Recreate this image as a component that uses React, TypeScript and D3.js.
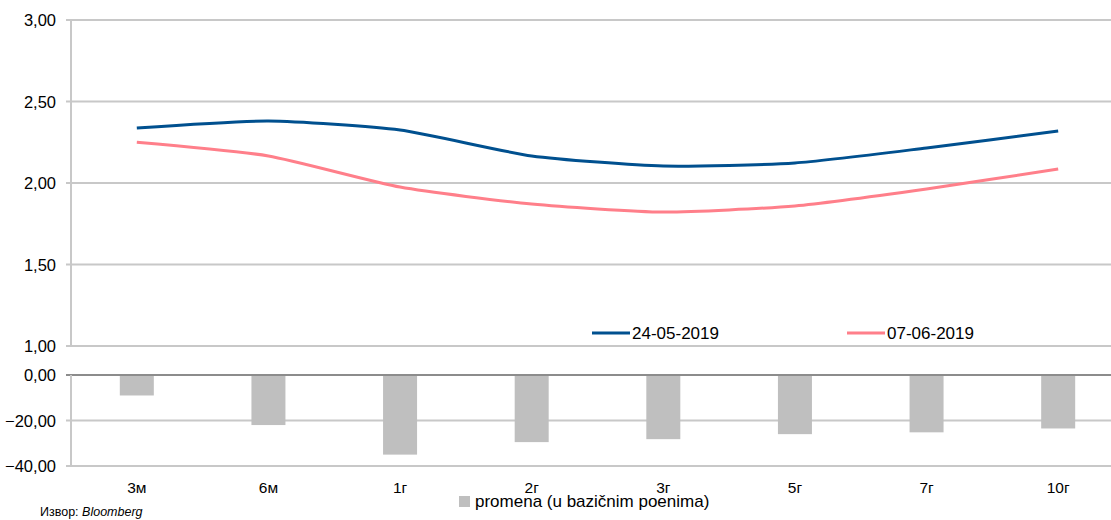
import React from "react";
import * as d3 from "d3";

const categories = ["3м", "6м", "1г", "2г", "3г", "5г", "7г", "10г"];
const series1Name = "24-05-2019";
const series1 = [2.337, 2.38, 2.325, 2.166, 2.104, 2.123, 2.215, 2.319];
const series2Name = "07-06-2019";
const series2 = [2.25, 2.166, 1.975, 1.871, 1.822, 1.859, 1.963, 2.086];
const changeName = "promena (u bazičnim poenima)";
const changes = [-9, -22, -35, -29.5, -28.2, -26, -25.2, -23.5];
const topTicks = [1, 1.5, 2, 2.5, 3];
const bottomTicks = [-40, -20, 0];
const sourceLabel = "Извор: ";
const sourceName = "Bloomberg";

const W = 1111;
const H = 520;
const fmt = (v: number) => d3.format(".2f")(v).replace(".", ",");

export default function App() {
  const x = d3.scaleBand<string>().domain(categories).range([71, 1124]).padding(0);
  const cx = (c: string) => (x(c) as number) + x.bandwidth() / 2;
  const yTop = d3.scaleLinear().domain([1, 3]).range([346, 20]);
  const yBot = d3.scaleLinear().domain([-40, 0]).range([466, 375]);
  const barW = 34;

  const line = d3
    .line<number>()
    .x((_, i) => cx(categories[i]))
    .y((d) => yTop(d))
    .curve(d3.curveCardinal.tension(0.4));

  const font = "'Liberation Sans', Arial, sans-serif";
  const grid = "#c8c8c8";

  return (
    <svg
      width={W}
      height={H}
      style={{ position: "absolute", left: 0, top: 0, background: "#fff" }}
      fontFamily={font}
    >
      {/* top gridlines */}
      {topTicks.map((t) => (
        <g key={"tt" + t}>
          <line x1={66} x2={W} y1={yTop(t)} y2={yTop(t)} stroke={grid} strokeWidth={2} />
          <text x={56} y={yTop(t) + 6} textAnchor="end" fontSize={16.5} fill="#000">
            {fmt(t)}
          </text>
        </g>
      ))}
      <line x1={71} x2={71} y1={yTop(3)} y2={yTop(1)} stroke={grid} strokeWidth={2} />

      {/* bottom gridlines */}
      {bottomTicks.map((t) => (
        <g key={"bt" + t}>
          <line
            x1={66}
            x2={W}
            y1={yBot(t)}
            y2={yBot(t)}
            stroke={t === 0 ? "#8c8c8c" : grid}
            strokeWidth={2}
          />
          <text x={56} y={yBot(t) + 6} textAnchor="end" fontSize={16.5} fill="#000">
            {fmt(t)}
          </text>
        </g>
      ))}
      <line x1={71} x2={71} y1={yBot(0)} y2={yBot(-40)} stroke={grid} strokeWidth={2} />

      {/* bars */}
      {changes.map((v, i) => (
        <rect
          key={"b" + i}
          x={cx(categories[i]) - barW / 2}
          y={yBot(0) + 1}
          width={barW}
          height={yBot(v) - yBot(0) - 1}
          fill="#bfbfbf"
        />
      ))}

      {/* lines */}
      <path d={line(series2) || ""} fill="none" stroke="#ff7f8a" strokeWidth={3} />
      <path d={line(series1) || ""} fill="none" stroke="#00508f" strokeWidth={3} />

      {/* category labels */}
      {categories.map((c) => (
        <text key={"c" + c} x={cx(c)} y={493} textAnchor="middle" fontSize={15.5} fill="#000">
          {c}
        </text>
      ))}

      {/* legend top */}
      <line x1={592} x2={630} y1={333} y2={333} stroke="#00508f" strokeWidth={3} />
      <text x={632} y={339} fontSize={17} fill="#000">
        {series1Name}
      </text>
      <line x1={847} x2={885} y1={333} y2={333} stroke="#ff7f8a" strokeWidth={3} />
      <text x={887} y={339} fontSize={17} fill="#000">
        {series2Name}
      </text>

      {/* legend bottom */}
      <rect x={459} y={496} width={11} height={11} fill="#bfbfbf" />
      <text x={475} y={507} fontSize={17} fill="#000">
        {changeName}
      </text>

      {/* source */}
      <text x={40} y={516} fontSize={12.5} fill="#000">
        {sourceLabel}
        <tspan fontStyle="italic">{sourceName}</tspan>
      </text>
    </svg>
  );
}
